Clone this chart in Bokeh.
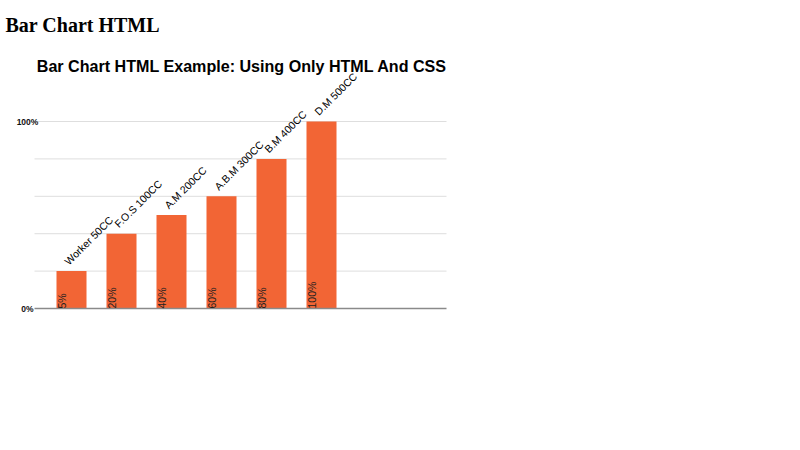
from math import pi

from bokeh.core.properties import value
from bokeh.embed import file_html
from bokeh.models import ColumnDataSource, Label, LabelSet, Range1d
from bokeh.plotting import figure
from bokeh.resources import INLINE

#data
categories = ["Worker 50CC", "F.O.S 100CC", "A.M 200CC", "A.B.M 300CC", "B.M 400CC", "D.M 500CC"]
heights = [20, 40, 50, 60, 80, 100]
value_labels = ["5%", "20%", "40%", "60%", "80%", "100%"]
grid_ticks = [20, 40, 60, 80, 100]
axis_ticks = [0, 100]
axis_labels = ["0%", "100%"]

positions = list(range(len(categories)))
source = ColumnDataSource(data=dict(x=positions, top=heights, name=categories,
                                    label=value_labels, base=[0] * len(categories)))

#chart area in data units (left/right edge of the grid)
AREA_LEFT = -0.74
AREA_RIGHT = 7.5

#the whole canvas is the frame so that texts above the bars are not clipped
W, H = 784, 434
p = figure(width=W, height=H, output_backend="svg", toolbar_location=None,
           x_range=Range1d(-1.42, -1.42 + W / 50), y_range=Range1d(-67.38, 164.71),
           min_border=0)
p.outline_line_color = None
p.background_fill_color = "white"
p.axis.visible = False
p.grid.visible = False

#grid lines and base line
p.segment(x0=AREA_LEFT, x1=AREA_RIGHT, y0=grid_ticks, y1=grid_ticks,
          line_color="#dedede", line_width=1)

#bars
p.vbar(x="x", top="top", width=0.6, source=source,
       fill_color="#f26535", line_color=None)

p.segment(x0=AREA_LEFT, x1=AREA_RIGHT, y0=[0], y1=[0],
          line_color="#8a8a8a", line_width=1.5)

for t, lab in zip(axis_ticks, axis_labels):
    p.add_layout(Label(x=27, y=t, x_units="screen", y_units="data", text=lab,
                       text_align="center", text_baseline="middle",
                       text_font="Liberation Sans", text_font_style="bold",
                       text_font_size="8.5px", text_color="#111111"))

#value labels inside bars
p.add_layout(LabelSet(x="x", y="base", text="label", source=source,
                      angle=pi / 2, x_offset=-15, y_offset=0,
                      text_align="left", text_baseline="top",
                      text_font=value("Liberation Sans"), text_font_size="10.5px",
                      text_color="#222222"))

#category labels above bars
p.add_layout(LabelSet(x="x", y="top", text="name", source=source,
                      angle=pi / 4, x_offset=-1, y_offset=4,
                      text_align="left", text_baseline="bottom",
                      text_font=value("Liberation Sans"), text_font_size="10.5px",
                      text_color="#000000"))

#titles
p.add_layout(Label(x=5, y=H - 24.7, x_units="screen", y_units="screen",
                   text="Bar Chart HTML", text_align="left", text_baseline="alphabetic",
                   text_font="Liberation Serif", text_font_style="bold",
                   text_font_size="20px", text_color="black"))
p.add_layout(Label(x=241.5, y=H - 65, x_units="screen", y_units="screen",
                   text="Bar Chart HTML Example: Using Only HTML And CSS",
                   text_align="center", text_baseline="alphabetic",
                   text_font="Liberation Sans", text_font_style="bold",
                   text_font_size="16.1px", text_color="black"))

open("out.html", "w").write(file_html(p, INLINE))
